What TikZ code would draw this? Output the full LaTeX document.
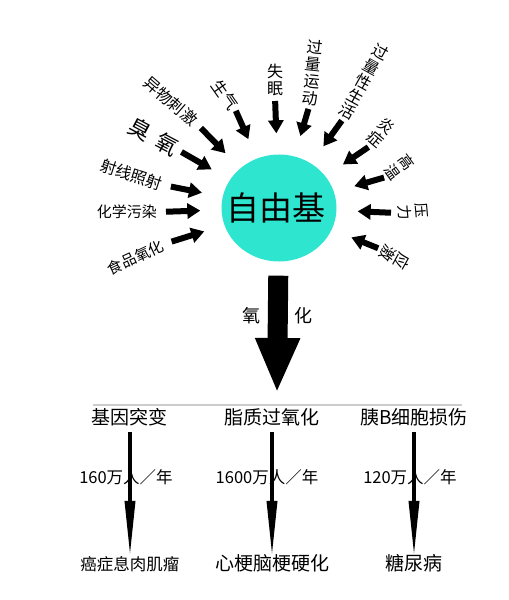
\documentclass[tikz,border=0pt]{standalone}
\usepackage{fontspec}
\setmainfont{Noto Sans CJK SC}
\usepackage{tikz}
\usetikzlibrary{arrows.meta,positioning,shapes.geometric}
\definecolor{jiqing}{RGB}{46,230,208}

\begin{document}
\begin{tikzpicture}[x=1bp, y=1bp, >={Triangle[length=13bp,width=15bp]},
    hcause/.style={font=\fontsize{#1}{#1}\selectfont, inner sep=1bp, anchor=east},
    vcause/.style={font=\fontsize{#1}{17bp}\selectfont, inner sep=1bp, anchor=south, align=center},
    hit/.style={->, line width=6bp, shorten <=#1, shorten >=21bp},
    effect/.style={font=\fontsize{19bp}{21bp}\selectfont, inner sep=2bp, text height=.85em, text depth=.12em},
    rate/.style={font=\fontsize{16.5bp}{18bp}\selectfont, inner sep=1bp},
    drop/.style={-{Triangle[length=55bp,width=10bp]}, line width=3.5bp, shorten <=4bp, shorten >=4bp}]
    \useasboundingbox (-279,-392) rectangle (230,208);

    % Nodes {fb, c1, c2, ..., c13}
    \node [ellipse, fill=jiqing, minimum width=115bp, minimum height=107bp,
           label={[font=\fontsize{33bp}{33bp}\selectfont, xshift=-3bp]center:自由基}] (fb) at (0,0) {};
    \node [hcause=15bp, rotate=25]   (c1)  at (-115,-36) {食品氧化};
    \node [hcause=15bp]              (c2)  at (-121,-4)  {化学污染};
    \node [hcause=16bp, rotate=-18]  (c3)  at (-116,23)  {射线照射};
    \node [hcause=22bp, rotate=-28]  (c4)  at (-101,58)  {臭\hspace{9bp}氧};
    \node [hcause=16bp, rotate=-41]  (c5)  at (-83,85)   {异物刺激};
    \node [hcause=16bp, rotate=-55]  (c6)  at (-44,99)   {生气};
    \node [vcause=16bp]              (c7)  at (-4,111)   {失\\眠};
    \node [vcause=16bp, rotate=-6]   (c8)  at (30,101)   {过\\量\\运\\动};
    \node [vcause=16bp, rotate=-29]  (c9)  at (64,89)    {过\\量\\性\\生\\活};
    \node [vcause=16bp, rotate=-40]  (c10) at (91,62)    {炎\\症};
    \node [vcause=15bp, rotate=-54]  (c11) at (107,31)   {高\\温};
    \node [vcause=15bp, rotate=-85]  (c12) at (118,-5)   {压\\力};
    \node [vcause=16bp, rotate=-119] (c13) at (101,-41)  {应\\激};
    \coordinate (ob) at (-2,-185);

    % Nodes {g1, g2, g3, d1, d2, d3}
    \node [effect] (g1) at (-149,-213) {基因突变};
    \node [effect] (g2) [right of=g1, node distance=142bp] {脂质过氧化};
    \node [effect] (g3) [right of=g2, node distance=142bp] {胰B细胞损伤};
    \node [effect, font=\fontsize{16.5bp}{18bp}\selectfont] (d1) [below of=g1, node distance=146bp] {癌症息肉肌瘤};
    \node [effect] (d2) [below of=g2, node distance=146bp] {心梗脑梗硬化};
    \node [effect] (d3) [below of=g3, node distance=146bp] {糖尿病};

    % Paths
    \path [hit=8bp] (c1.east) edge (fb);
    \path [hit=8bp] (c2.east) edge (fb);
    \path [hit=8bp] (c3.east) edge (fb);
    \path [hit=4bp] (c4.east) edge (fb);
    \path [hit=7bp] (c5.east) edge (fb);
    \path [hit=2bp] (c6.east) edge (fb);
    \path [hit=4bp] (c7.south) edge (fb);
    \path [hit=2bp] (c8.south) edge (fb);
    \path [hit=2bp] (c9.south) edge (fb);
    \path [hit=2bp] (c10.south) edge (fb);
    \path [hit=2bp] (c11.south) edge (fb);
    \path [hit=6bp] (c12.south) edge (fb);
    \path [hit=2bp] (c13.south) edge (fb);

    \path [line width=20bp, -{Triangle[length=55bp,width=41bp]}] (fb) edge [shorten <=14bp]
        node [pos=.41, left=17bp, inner sep=0, outer sep=0, font=\fontsize{18bp}{18bp}\selectfont] {氧}
        node [pos=.41, right=17bp, inner sep=0, outer sep=0, font=\fontsize{18bp}{18bp}\selectfont] {化} (ob);

    \draw [gray!40, line width=1.5bp] (-186,-197) -- (183,-197);

    \path [drop] (g1) edge node [rate, pos=.37, xshift=-4bp] {160万人／年}  (d1);
    \path [drop] (g2) edge node [rate, pos=.37, xshift=-5bp] {1600万人／年} (d2);
    \path [drop] (g3) edge node [rate, pos=.37, xshift=-4bp] {120万人／年}  (d3);

    \end{tikzpicture}
\end{document}
